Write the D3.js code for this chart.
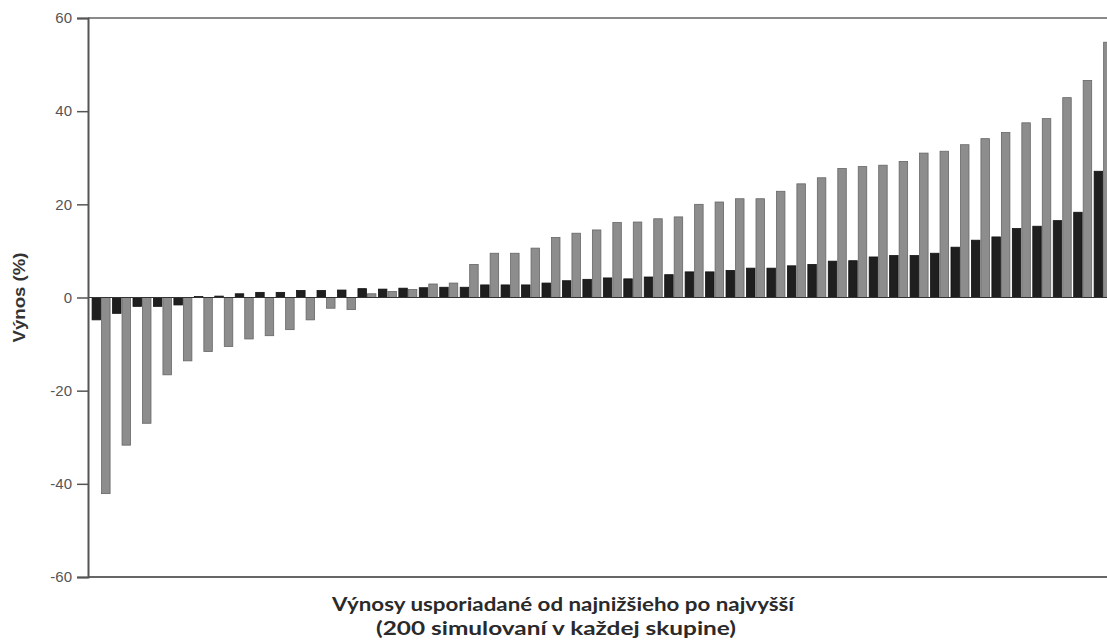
<!DOCTYPE html>
<html>
<head>
<meta charset="utf-8">
<script src="https://cdn.jsdelivr.net/npm/d3@7"></script>
<style>
html,body{margin:0;padding:0;background:#fff;}
svg{display:block;}
</style>
</head>
<body>
<svg id="chart" width="1107" height="643"></svg>
<script>
// Data
const seriesKeys = ["black", "gray"];
const blackValues = [-4.8,-3.4,-1.9,-1.9,-1.6,0.2,0.3,0.8,1.1,1.1,1.5,1.5,1.6,1.9,1.8,2.0,2.1,2.2,2.2,2.7,2.7,2.7,3.1,3.6,3.9,4.2,4.0,4.4,4.9,5.5,5.5,5.8,6.3,6.3,6.8,7.1,7.8,7.9,8.7,9.0,9.0,9.5,10.8,12.3,13.0,14.8,15.3,16.5,18.3,27.1];
const grayValues = [-42.1,-31.7,-27.0,-16.6,-13.6,-11.6,-10.5,-8.9,-8.2,-6.9,-4.8,-2.3,-2.6,0.8,1.3,1.7,2.9,3.1,7.1,9.5,9.5,10.6,12.9,13.8,14.5,16.1,16.2,16.9,17.3,20.0,20.5,21.2,21.2,22.8,24.4,25.7,27.7,28.1,28.4,29.2,31.0,31.4,32.8,34.1,35.4,37.5,38.4,42.9,46.6,54.8];
const yTicks = [-60,-40,-20,0,20,40,60];
const yTitle = "Výnos (%)";
const xTitleLines = ["Výnosy usporiadané od najnižšieho po najvyšší", "(200 simulovaní v každej skupine)"];

(function(){
const svg = d3.select("#chart");
const mLeft = 88, mTop = 18, mBottom = 577, rightEdge = 1107;

const indices = d3.range(blackValues.length);
const rows = indices.map(i => ({i, black: blackValues[i], gray: grayValues[i]}));

const y = d3.scaleLinear().domain([-60, 60]).range([mBottom, mTop]);
const step = 20.45;
const x0 = d3.scaleBand().domain(indices)
  .range([mLeft, mLeft + step * (indices.length - 0.12 + 0.4)])
  .paddingInner(0.12).paddingOuter(0.2);
const x1 = d3.scaleBand().domain(seriesKeys).range([0, x0.bandwidth()]).padding(0);

const fills = {black: "#1f1f1f", gray: "#8d8d8d"};
const strokes = {black: "#111", gray: "#666"};

const plot = svg.append("g");

// top border
plot.append("line").attr("x1", mLeft).attr("x2", rightEdge).attr("y1", mTop).attr("y2", mTop)
  .attr("stroke", "#8a8a8a").attr("stroke-width", 2);

// bars
const groups = plot.selectAll("g.pair").data(rows).join("g").attr("class", "pair")
  .attr("transform", d => `translate(${x0(d.i)},0)`);
groups.selectAll("rect").data(d => seriesKeys.map(k => ({k, v: d[k]}))).join("rect")
  .attr("x", d => x1(d.k) + (d.k === "gray" ? 0.5 : 0))
  .attr("width", d => x1.bandwidth() - 0.5)
  .attr("y", d => y(Math.max(0, d.v)))
  .attr("height", d => Math.abs(y(d.v) - y(0)))
  .attr("fill", d => fills[d.k])
  .attr("stroke", d => strokes[d.k])
  .attr("stroke-width", 0.8);

// zero line
plot.append("line").attr("x1", mLeft).attr("x2", rightEdge).attr("y1", y(0)).attr("y2", y(0))
  .attr("stroke", "#333").attr("stroke-width", 1.2);

// bottom line
plot.append("line").attr("x1", mLeft).attr("x2", rightEdge).attr("y1", mBottom).attr("y2", mBottom)
  .attr("stroke", "#333").attr("stroke-width", 1.5);

// y axis
const yAxis = d3.axisLeft(y).tickValues(yTicks).tickSize(11).tickPadding(5).tickFormat(d => String(d));
const ga = svg.append("g").attr("transform", `translate(${mLeft},0)`).call(yAxis);
ga.select(".domain").attr("stroke", "#555").attr("stroke-width", 2);
ga.selectAll(".tick line").attr("stroke", "#555").attr("stroke-width", 1.5);
ga.selectAll(".tick text").attr("font-family", "'Liberation Sans', Arial, sans-serif")
  .attr("font-size", 15).attr("fill", "#555");

// y title
svg.append("text")
  .attr("transform", `translate(25,${y(0)}) rotate(-90)`)
  .attr("text-anchor", "middle")
  .attr("font-family", "'Liberation Sans', Arial, sans-serif")
  .attr("font-weight", "bold").attr("font-size", 16).attr("fill", "#333")
  .attr("textLength", 90).attr("lengthAdjust", "spacingAndGlyphs")
  .text(yTitle);

// x title
svg.append("text").attr("x", 563).attr("y", 611).attr("text-anchor", "middle")
  .attr("font-family", "Lato, 'Open Sans', sans-serif").attr("font-weight", "bold")
  .attr("font-size", 19).attr("fill", "#2a2a2a")
  .attr("textLength", 462).attr("lengthAdjust", "spacingAndGlyphs")
  .text(xTitleLines[0]);
svg.append("text").attr("x", 556).attr("y", 635).attr("text-anchor", "middle")
  .attr("font-family", "Lato, 'Open Sans', sans-serif").attr("font-weight", "bold")
  .attr("font-size", 19).attr("fill", "#2a2a2a")
  .attr("textLength", 360).attr("lengthAdjust", "spacingAndGlyphs")
  .text(xTitleLines[1]);
})();
</script>
</body>
</html>
